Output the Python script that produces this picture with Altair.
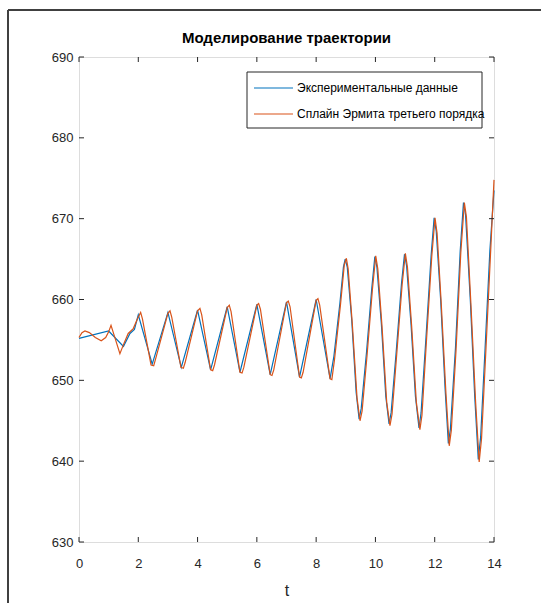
import altair as alt
import pandas as pd

TITLE = "Моделирование траектории"
X_TITLE = "t"
SERIES = ["Экспериментальные данные", "Сплайн Эрмита третьего порядка"]
COLORS = ["#0072BD", "#D95319"]

X_TICKS = [0, 2, 4, 6, 8, 10, 12, 14]
Y_TICKS = [630, 640, 650, 660, 670, 680, 690]

# experimental data (blue)
exp_t = [0, 1.0, 1.5, 1.72, 1.87, 2.0, 2.47, 3.0, 3.45, 4.0, 4.44, 5.0, 5.43, 6.0,
         6.45, 7.0, 7.44, 8.0, 8.47, 8.6, 8.8, 8.92, 8.98, 9.05, 9.2, 9.35, 9.45,
         9.52, 9.7, 9.88, 9.98, 10.05, 10.2, 10.35, 10.46, 10.53, 10.7, 10.88,
         10.98, 11.05, 11.2, 11.35, 11.47, 11.54, 11.7, 11.88, 11.98, 12.05, 12.2,
         12.35, 12.46, 12.53, 12.7, 12.86, 12.97, 13.04, 13.2, 13.35, 13.47, 13.55,
         13.7, 13.86, 14.0]
exp_v = [655.2, 656.1, 654.2, 655.8, 656.3, 658.1, 652.0, 658.4, 651.6, 658.7, 651.3,
         659.1, 651.0, 659.4, 650.7, 659.7, 650.4, 660.0, 650.2, 653.0, 659.5, 664.0,
         665.0, 664.0, 657.5, 648.5, 645.2, 646.5, 653.5, 661.5, 665.3, 664.0, 657.0,
         648.0, 644.6, 646.0, 653.5, 662.0, 665.6, 664.2, 657.0, 648.0, 644.1, 646.0,
         655.0, 665.5, 670.1, 668.5, 660.0, 649.0, 642.2, 644.0, 654.0, 666.0, 672.0,
         670.5, 660.0, 648.0, 640.2, 643.0, 654.0, 666.0, 673.5]

# Hermite spline (orange)
spl_t = [0, 0.1, 0.2, 0.35, 0.55, 0.75, 0.9, 1.0, 1.08, 1.2, 1.38, 1.52, 1.66, 1.83,
         1.97, 2.08, 2.14, 2.43, 2.52, 2.58, 3.0, 3.07, 3.13, 3.44, 3.52, 3.58, 4.0,
         4.08, 4.14, 4.44, 4.51, 4.57, 5.0, 5.07, 5.13, 5.43, 5.5, 5.56, 6.0, 6.06,
         6.12, 6.45, 6.51, 6.57, 7.0, 7.06, 7.12, 7.44, 7.5, 7.56, 8.0, 8.06, 8.12,
         8.47, 8.53, 8.62, 8.82, 8.95, 9.02, 9.08, 9.22, 9.38, 9.48, 9.55, 9.72, 9.9,
         10.01, 10.08, 10.22, 10.38, 10.49, 10.56, 10.72, 10.9, 11.01, 11.08, 11.22,
         11.38, 11.5, 11.57, 11.72, 11.9, 12.01, 12.08, 12.22, 12.38, 12.49, 12.56,
         12.72, 12.88, 13.0, 13.07, 13.22, 13.38, 13.5, 13.58, 13.73, 13.89, 14.0]
spl_v = [655.3, 655.9, 656.1, 655.9, 655.3, 654.9, 655.3, 656.0, 656.8, 655.4, 653.3,
         654.6, 655.8, 656.4, 657.6, 658.4, 657.6, 651.9, 651.8, 652.6, 658.3, 658.6,
         657.8, 651.6, 651.5, 652.2, 658.6, 658.9, 658.1, 651.3, 651.2, 651.9, 659.0,
         659.3, 658.5, 651.0, 650.9, 651.6, 659.3, 659.5, 658.8, 650.7, 650.6, 651.3,
         659.6, 659.8, 659.1, 650.4, 650.3, 651.0, 659.9, 660.1, 659.3, 650.2, 650.1,
         652.6, 659.3, 664.3, 665.1, 663.8, 657.0, 647.8, 645.0, 646.2, 653.2, 661.3,
         665.4, 663.8, 656.8, 647.3, 644.4, 645.8, 653.3, 661.8, 665.7, 664.0, 656.8,
         647.3, 643.9, 645.7, 654.8, 665.3, 670.1, 668.2, 659.5, 648.3, 641.9, 643.8,
         653.8, 665.8, 672.0, 670.2, 659.5, 647.3, 639.9, 642.8, 654.0, 666.2, 674.8]

W, H = 415, 485
INK = "#262626"
FONT = "Liberation Sans"

df_exp = pd.DataFrame({"t": exp_t, "v": exp_v, "s": SERIES[0]})
df_spl = pd.DataFrame({"t": spl_t, "v": spl_v, "s": SERIES[1]})

xs = alt.Scale(domain=[0, 14], nice=False, zero=False)
ys = alt.Scale(domain=[630, 690], nice=False, zero=False)
cs = alt.Scale(domain=SERIES, range=COLORS)

x_axis = alt.Axis(values=X_TICKS, ticks=False, domain=False, grid=False,
                  labelFlush=False,
                  labelPadding=15, labelFontSize=13, labelColor=INK, labelFont=FONT,
                  title=X_TITLE, titleFontSize=16, titleFont=FONT, titleColor=INK,
                  titleFontWeight="normal", titlePadding=12)
y_axis = alt.Axis(values=Y_TICKS, ticks=False, domain=False, grid=False,
                  labelFlush=False,
                  labelPadding=6, labelFontSize=13, labelColor=INK, labelFont=FONT,
                  title=None)

def line_layer(df):
    return alt.Chart(df).mark_line(strokeWidth=1.2).encode(
        x=alt.X("t:Q", scale=xs, axis=x_axis),
        y=alt.Y("v:Q", scale=ys, axis=y_axis),
        color=alt.Color("s:N", scale=cs, legend=None),
    )

blue = line_layer(df_exp)
orange = line_layer(df_spl)

df_xt = pd.DataFrame({"x": X_TICKS})
df_yt = pd.DataFrame({"y": Y_TICKS})
tick_b = alt.Chart(df_xt).mark_rule(color=INK, strokeWidth=1).encode(
    x=alt.X("x:Q", scale=xs), y=alt.value(H), y2=alt.value(H - 5))
tick_t = alt.Chart(df_xt).mark_rule(color=INK, strokeWidth=1).encode(
    x=alt.X("x:Q", scale=xs), y=alt.value(0), y2=alt.value(5))
tick_l = alt.Chart(df_yt).mark_rule(color=INK, strokeWidth=1).encode(
    y=alt.Y("y:Q", scale=ys), x=alt.value(0), x2=alt.value(5))
tick_r = alt.Chart(df_yt).mark_rule(color=INK, strokeWidth=1).encode(
    y=alt.Y("y:Q", scale=ys), x=alt.value(W), x2=alt.value(W - 5))

one = alt.Data(values=[{"a": 1}])
leg_box = alt.Chart(one).mark_rect(fill="white", stroke=INK, strokeWidth=1).encode(
    x=alt.value(168), x2=alt.value(403), y=alt.value(15), y2=alt.value(71))
leg_items = []
for i, (name, col) in enumerate(zip(SERIES, COLORS)):
    yy = 31 + 26 * i
    leg_items.append(alt.Chart(one).mark_rule(color=col, strokeWidth=1.2).encode(
        x=alt.value(175), x2=alt.value(214), y=alt.value(yy)))
    leg_items.append(alt.Chart(one).mark_text(
        align="left", baseline="middle", font=FONT, fontSize=12, color="black").encode(
        x=alt.value(218), y=alt.value(yy), text=alt.value(name)))

title_mark = alt.Chart(one).mark_text(
    align="center", baseline="middle", font=FONT, fontSize=15, fontWeight="bold",
    color="black").encode(x=alt.value(W / 2), y=alt.value(-19), text=alt.value(TITLE))

frame_top = alt.Chart(one).mark_rule(color="#404040", strokeWidth=2).encode(
    x=alt.value(-71), x2=alt.value(462), y=alt.value(-47))
frame_left = alt.Chart(one).mark_rule(color="#404040", strokeWidth=2).encode(
    x=alt.value(-71), y=alt.value(-47), y2=alt.value(546))

chart = alt.layer(
    blue, orange, tick_b, tick_t, tick_l, tick_r, leg_box, *leg_items,
    title_mark, frame_top, frame_left
).properties(
    width=W, height=H,
    autosize=alt.AutoSizeParams(type="none"),
    padding={"left": 79, "top": 57, "right": 47, "bottom": 61},
).configure_view(stroke=INK, strokeWidth=1).configure(background="white")

chart.save("out.html", embed_options={"renderer": "svg", "actions": False})
